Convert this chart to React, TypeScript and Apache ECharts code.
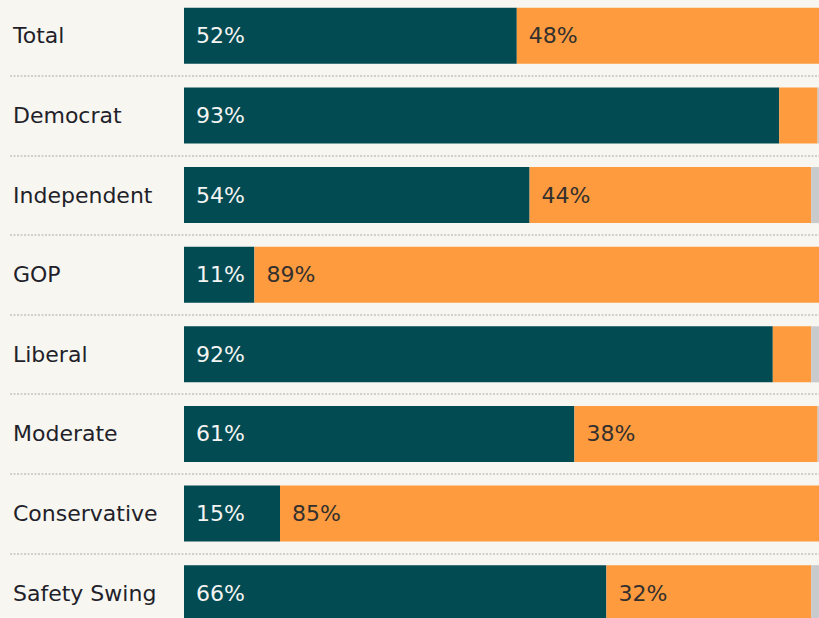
import React, { useEffect, useRef } from "react";
import * as echarts from "echarts";

const categories = ["Total", "Democrat", "Independent", "GOP", "Liberal", "Moderate", "Conservative", "Safety Swing"];
const tealValues = [52, 93, 54, 11, 92, 61, 15, 66];
const orangeValues = [48, 6, 44, 89, 6, 38, 85, 32];
const grayValues = [0, 1, 2, 0, 2, 1, 0, 2];

const FONT = "DejaVu Sans";

export default function App() {
  const ref = useRef<HTMLDivElement>(null);
  useEffect(() => {
    if (!ref.current) return;
    const chart = echarts.init(ref.current, undefined, { renderer: "svg" });
    const labelFor = (color: string) => ({
      show: true,
      position: "insideLeft" as const,
      distance: 12,
      color,
      fontSize: 22,
      fontFamily: FONT,
      formatter: (p: any) => (p.value >= 10 ? p.value + "%" : ""),
    });
    chart.setOption({
      animation: false,
      backgroundColor: "#f8f6f0",
      grid: [
        { left: 184, right: 0, top: 0, bottom: 0 },
        { left: 10, right: 0, top: 0, bottom: 0 },
      ],
      xAxis: [
        { type: "value", gridIndex: 0, min: 0, max: 100, show: false },
        { type: "value", gridIndex: 1, min: 0, max: 100, show: false },
      ],
      yAxis: [
        {
          type: "category",
          gridIndex: 0,
          data: categories,
          inverse: true,
          axisLine: { show: false },
          axisTick: { show: false },
          splitLine: { show: false },
          axisLabel: {
            align: "left",
            margin: 171,
            color: "#221f2a",
            fontSize: 22,
            fontFamily: FONT,
          },
        },
        {
          type: "category",
          gridIndex: 1,
          data: categories,
          inverse: true,
          axisLine: { show: false },
          axisTick: { show: false },
          axisLabel: { show: false },
          splitLine: { show: true, lineStyle: { color: "#d3d0c9", width: 2, type: [2, 1.5] } },
        },
      ],
      series: [
        {
          type: "bar",
          stack: "s",
          data: tealValues,
          barCategoryGap: "29.6%",
          itemStyle: { color: "#034b53" },
          label: labelFor("#f4f4f2"),
          z: 3,
        },
        {
          type: "bar",
          stack: "s",
          data: orangeValues,
          itemStyle: { color: "#fe9b3e" },
          label: labelFor("#33302e"),
          z: 3,
        },
        {
          type: "bar",
          stack: "s",
          data: grayValues,
          itemStyle: { color: "#c9cacc" },
          z: 3,
        },
      ],
    });
    return () => chart.dispose();
  }, []);
  return <div ref={ref} style={{ position: "fixed", left: 0, top: -4, width: 824, height: 637 }} />;
}
